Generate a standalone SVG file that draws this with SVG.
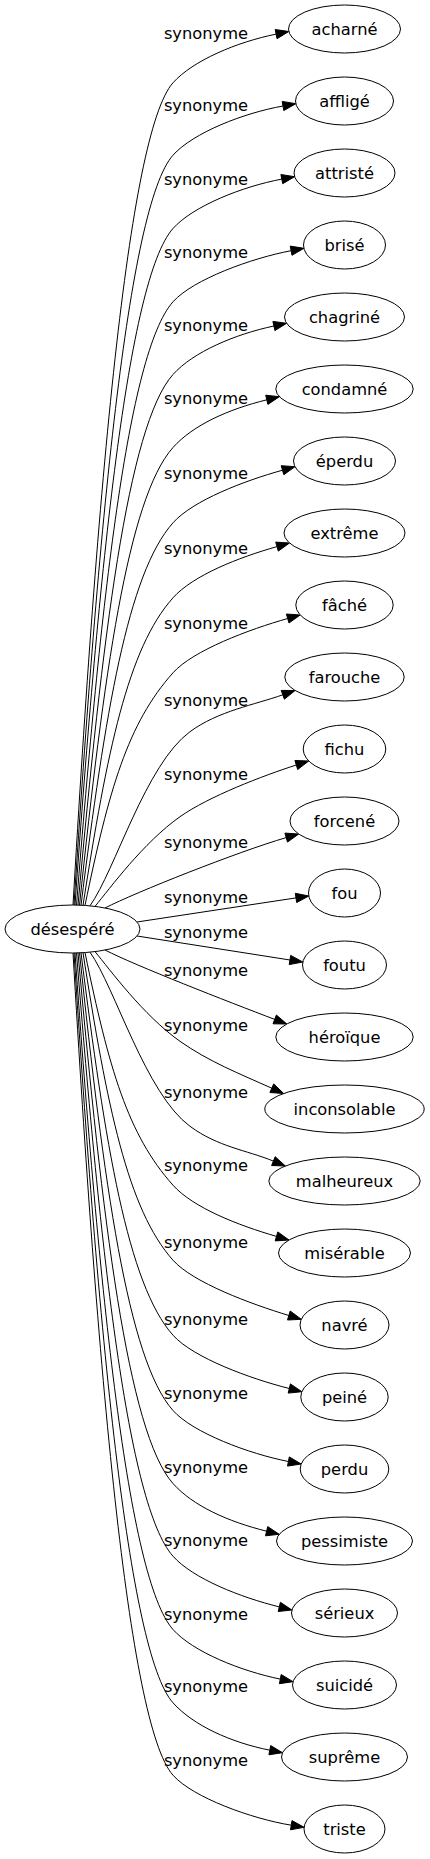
<svg xmlns="http://www.w3.org/2000/svg" width="430" height="1859" viewBox="0 0 430 1859">
<style>
.n ellipse{fill:#fff;stroke:#000;stroke-width:1}
.n text,.e text{font-family:"DejaVu Sans","Liberation Sans",sans-serif;font-size:16.3px;fill:#000;text-anchor:middle}
.e path{fill:none;stroke:#000;stroke-width:1}
.e polygon{fill:#000;stroke:#000;stroke-width:1}
</style>
<rect width="430" height="1859" fill="#fff"/>
<g id="connectors">
<g class="e" id="e0"><path d="M73,905 C97,493.9 127.7,133.5 173,82.8 C193,60.4 236.9,42.1 276.1,34.1"/><polygon points="277,38.7 288.8,31.5 275.2,29.5"/><text x="206" y="38.8">synonyme</text></g>
<g class="e" id="e1"><path d="M74,905 C98,530.1 127.7,205.9 173,155.2 C193,132.8 243.6,113 283,106"/><polygon points="283.8,110.6 295.8,103.7 282.2,101.4"/><text x="206" y="111.2">synonyme</text></g>
<g class="e" id="e2"><path d="M75,905 C99,566.8 127.7,279.2 173,228.5 C193,206.1 242.5,186.5 281.8,179.1"/><polygon points="282.7,183.7 294.6,176.7 280.9,174.5"/><text x="206" y="184.5">synonyme</text></g>
<g class="e" id="e3"><path d="M76.5,905 C100.5,603.4 127.7,352.5 173,301.8 C193,279.4 251.8,258.1 291.1,250.7"/><polygon points="292,255.3 303.9,248.3 290.2,246.1"/><text x="206" y="257.8">synonyme</text></g>
<g class="e" id="e4"><path d="M78,905.1 C102,639.8 127.7,425.2 173,374.5 C193,352.1 234.8,334.3 273.9,326"/><polygon points="274.9,330.6 286.6,323.3 272.9,321.4"/><text x="206" y="330.5">synonyme</text></g>
<g class="e" id="e5"><path d="M79.5,905.1 C103.5,676.3 127.7,498.2 173,447.5 C193,425.1 228,409.4 266.8,399.8"/><polygon points="267.9,404.4 279.4,396.7 265.7,395.2"/><text x="206" y="403.5">synonyme</text></g>
<g class="e" id="e6"><path d="M81,905.2 C105,714 127.7,573.5 173,522.8 C193,500.4 244,480.9 282.5,470.2"/><polygon points="283.8,474.7 295,466.7 281.2,465.7"/><text x="206" y="478.8">synonyme</text></g>
<g class="e" id="e7"><path d="M83,905.3 C107,751.6 127.7,648.5 173,597.8 C193,575.4 238.5,557.5 277,546.6"/><polygon points="278.3,551.1 289.5,543 275.7,542.1"/><text x="206" y="553.8">synonyme</text></g>
<g class="e" id="e8"><path d="M85,905.4 C109,789.1 127.7,723.5 173,672.8 C193,650.4 249.2,629.4 287.7,618.5"/><polygon points="289,623 300.2,615 286.4,614"/><text x="206" y="628.8">synonyme</text></g>
<g class="e" id="e9"><path d="M90,905.8 C115,870.7 145.6,764.2 190,731.7 C218.2,711 254.5,704.8 282.8,694.8"/><polygon points="284.4,699.2 295.1,690.5 281.2,690.4"/><text x="206" y="706.2">synonyme</text></g>
<g class="e" id="e10"><path d="M95,906.4 C110,888.3 143.2,842.7 180,816.7 C208.6,796.5 263,775.7 296.3,765"/><polygon points="297.7,769.5 308.7,761 294.9,760.5"/><text x="206" y="779.5">synonyme</text></g>
<g class="e" id="e11"><path d="M105,908 C135,892.5 238.2,851.6 286.2,837.6"/><polygon points="287.5,842.1 298.7,834 284.9,833.1"/><text x="206" y="847.8">synonyme</text></g>
<g class="e" id="e12"><path d="M137,922 L296,897.9"/><polygon points="296.7,902.5 308.8,896 295.3,893.3"/><text x="206" y="902.8">synonyme</text></g>
<g class="e" id="e13"><path d="M137,936 L290,960"/><polygon points="289.2,964.6 302.8,962 290.7,955.4"/><text x="206" y="937.8">synonyme</text></g>
<g class="e" id="e14"><path d="M105,950 C135,965.5 228,1001.6 274.7,1019.4"/><polygon points="273,1023.8 286.8,1024 276.4,1015"/><text x="206" y="975.5">synonyme</text></g>
<g class="e" id="e15"><path d="M95,951.6 C110,969.7 143.2,1015.3 180,1041.3 C208.6,1061.5 239.9,1073.9 271.8,1088.2"/><polygon points="269.9,1092.5 283.7,1093.5 273.7,1083.9"/><text x="206" y="1030.5">synonyme</text></g>
<g class="e" id="e16"><path d="M90,952.2 C115,987.3 145.6,1093.8 190,1126.3 C218.2,1147 245.6,1149.8 273.4,1161.1"/><polygon points="271.6,1165.5 285.4,1166 275.2,1156.7"/><text x="206" y="1097.8">synonyme</text></g>
<g class="e" id="e17"><path d="M85,952.6 C109,1068.9 127.7,1134.5 173,1185.2 C193,1207.6 238.1,1225.3 276.5,1236.4"/><polygon points="275.2,1240.9 289,1240 277.8,1231.9"/><text x="206" y="1171.2">synonyme</text></g>
<g class="e" id="e18"><path d="M83,952.7 C107,1106.4 127.7,1209.5 173,1260.2 C193,1282.6 250.6,1303.9 288.9,1315.5"/><polygon points="287.5,1320 301.3,1319.3 290.2,1311"/><text x="206" y="1247.8">synonyme</text></g>
<g class="e" id="e19"><path d="M81,952.8 C105,1144 127.7,1284.5 173,1335.2 C193,1357.6 250.5,1378.8 289.3,1388.5"/><polygon points="288.2,1393.1 301.9,1391.7 290.4,1383.9"/><text x="206" y="1324.5">synonyme</text></g>
<g class="e" id="e20"><path d="M79.5,952.9 C103.5,1181.7 127.7,1359.8 173,1410.5 C193,1432.9 249.2,1453.8 288.4,1461.5"/><polygon points="287.5,1466.1 301.2,1464 289.3,1456.9"/><text x="206" y="1398.8">synonyme</text></g>
<g class="e" id="e21"><path d="M78,952.9 C102,1218.2 127.7,1432.8 173,1483.5 C193,1505.9 227.8,1521.5 266.6,1531.2"/><polygon points="265.5,1535.8 279.2,1534.3 267.7,1526.6"/><text x="206" y="1472.8">synonyme</text></g>
<g class="e" id="e22"><path d="M76.5,953 C100.5,1254.6 127.7,1505.5 173,1556.2 C193,1578.6 240.5,1597.3 279.3,1606.9"/><polygon points="278.2,1611.5 291.9,1610 280.4,1602.3"/><text x="206" y="1546.2">synonyme</text></g>
<g class="e" id="e23"><path d="M75,953 C99,1291.2 127.7,1578.8 173,1629.5 C193,1651.9 241.1,1671.1 280.3,1679.1"/><polygon points="279.4,1683.7 293,1681.7 281.2,1674.5"/><text x="206" y="1619.5">synonyme</text></g>
<g class="e" id="e24"><path d="M74,953 C98,1327.9 127.7,1652.1 173,1702.8 C193,1725.2 230.6,1742.4 269.8,1750.2"/><polygon points="268.9,1754.8 282.5,1752.7 270.7,1745.6"/><text x="206" y="1692">synonyme</text></g>
<g class="e" id="e25"><path d="M73,953 C97,1364.1 127.7,1724.5 173,1775.2 C193,1797.6 251.8,1818.8 291.3,1825.2"/><polygon points="290.5,1829.8 304.1,1827.3 292,1820.6"/><text x="206" y="1766.2">synonyme</text></g>
</g>
<g class="n" id="desespere"><ellipse cx="72.5" cy="929" rx="67.5" ry="24"/><text x="72.5" y="934.7">désespéré</text></g>
<g class="n" id="acharne"><ellipse cx="344.5" cy="29" rx="56" ry="24"/><text x="344.5" y="34.7">acharné</text></g>
<g class="n" id="afflige"><ellipse cx="344.5" cy="101" rx="49" ry="24"/><text x="344.5" y="106.7">affligé</text></g>
<g class="n" id="attriste"><ellipse cx="344.5" cy="173" rx="50.5" ry="24"/><text x="344.5" y="178.7">attristé</text></g>
<g class="n" id="brise"><ellipse cx="344.5" cy="245" rx="41" ry="24"/><text x="344.5" y="250.7">brisé</text></g>
<g class="n" id="chagrine"><ellipse cx="344.5" cy="317" rx="60" ry="24"/><text x="344.5" y="322.7">chagriné</text></g>
<g class="n" id="condamne"><ellipse cx="344.5" cy="389" rx="68.7" ry="24"/><text x="344.5" y="394.7">condamné</text></g>
<g class="n" id="eperdu"><ellipse cx="344.5" cy="461" rx="51" ry="24"/><text x="344.5" y="466.7">éperdu</text></g>
<g class="n" id="extreme"><ellipse cx="344.5" cy="533" rx="60.5" ry="24"/><text x="344.5" y="538.7">extrême</text></g>
<g class="n" id="fache"><ellipse cx="344.5" cy="605" rx="48.7" ry="24"/><text x="344.5" y="610.7">fâché</text></g>
<g class="n" id="farouche"><ellipse cx="344.5" cy="677" rx="59.7" ry="24"/><text x="344.5" y="682.7">farouche</text></g>
<g class="n" id="fichu"><ellipse cx="344.5" cy="749" rx="41.3" ry="24"/><text x="344.5" y="754.7">fichu</text></g>
<g class="n" id="forcene"><ellipse cx="344.5" cy="821" rx="54.5" ry="24"/><text x="344.5" y="826.7">forcené</text></g>
<g class="n" id="fou"><ellipse cx="344.5" cy="893" rx="36" ry="24"/><text x="344.5" y="898.7">fou</text></g>
<g class="n" id="foutu"><ellipse cx="344.5" cy="965" rx="42" ry="24"/><text x="344.5" y="970.7">foutu</text></g>
<g class="n" id="heroique"><ellipse cx="344.5" cy="1037" rx="68.7" ry="24"/><text x="344.5" y="1042.7">héroïque</text></g>
<g class="n" id="inconsolable"><ellipse cx="344.5" cy="1109" rx="79.7" ry="24"/><text x="344.5" y="1114.7">inconsolable</text></g>
<g class="n" id="malheureux"><ellipse cx="344.5" cy="1181" rx="75.7" ry="24"/><text x="344.5" y="1186.7">malheureux</text></g>
<g class="n" id="miserable"><ellipse cx="344.5" cy="1253" rx="66" ry="24"/><text x="344.5" y="1258.7">misérable</text></g>
<g class="n" id="navre"><ellipse cx="344.5" cy="1325" rx="44.5" ry="24"/><text x="344.5" y="1330.7">navré</text></g>
<g class="n" id="peine"><ellipse cx="344.5" cy="1397" rx="43.7" ry="24"/><text x="344.5" y="1402.7">peiné</text></g>
<g class="n" id="perdu"><ellipse cx="344.5" cy="1469" rx="44.3" ry="24"/><text x="344.5" y="1474.7">perdu</text></g>
<g class="n" id="pessimiste"><ellipse cx="344.5" cy="1541" rx="68" ry="24"/><text x="344.5" y="1546.7">pessimiste</text></g>
<g class="n" id="serieux"><ellipse cx="344.5" cy="1613" rx="53" ry="24"/><text x="344.5" y="1618.7">sérieux</text></g>
<g class="n" id="suicide"><ellipse cx="344.5" cy="1685" rx="52" ry="24"/><text x="344.5" y="1690.7">suicidé</text></g>
<g class="n" id="supreme"><ellipse cx="344.5" cy="1757" rx="63" ry="24"/><text x="344.5" y="1762.7">suprême</text></g>
<g class="n" id="triste"><ellipse cx="344.5" cy="1829" rx="40.5" ry="24"/><text x="344.5" y="1834.7">triste</text></g>
</svg>
